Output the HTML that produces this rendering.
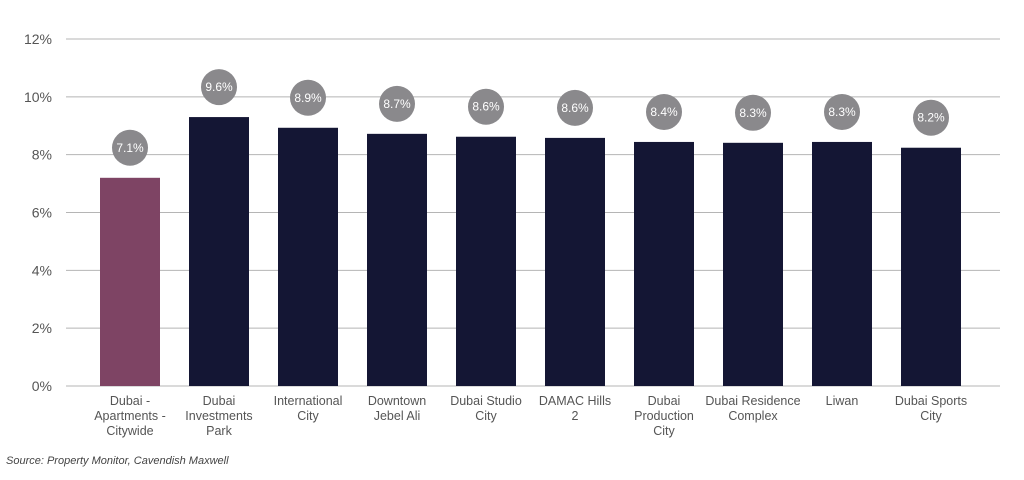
<!DOCTYPE html>
<html><head><meta charset="utf-8"><style>
body{margin:0;background:#fff;width:1024px;height:475px;overflow:hidden;font-family:"Liberation Sans",sans-serif}
</style></head><body>
<svg width="1024" height="475">
<g id="grid"></g>
<g id="bars"></g>
<g id="xl"></g>
<text x="6" y="464" font-size="11" font-style="italic" fill="#444">Source: Property Monitor, Cavendish Maxwell</text>
</svg>
<script>
const categories=[["Dubai -","Apartments -","Citywide"],["Dubai","Investments","Park"],["International","City"],["Downtown","Jebel Ali"],["Dubai Studio","City"],["DAMAC Hills","2"],["Dubai","Production","City"],["Dubai Residence","Complex"],["Liwan"],["Dubai Sports","City"]];
const values=[7.2,9.3,8.93,8.72,8.62,8.58,8.44,8.41,8.44,8.24];
const labels=["7.1%","9.6%","8.9%","8.7%","8.6%","8.6%","8.4%","8.3%","8.3%","8.2%"];
const ticks=[0,2,4,6,8,10,12];
const NS="http://www.w3.org/2000/svg";
const y=v=>386-v*(386-39)/12;
const x=i=>130+i*89;
function mk(t,a,p){const e=document.createElementNS(NS,t);for(const k in a)e.setAttribute(k,a[k]);p.appendChild(e);return e;}
const g=document.getElementById('grid');
ticks.forEach(t=>{
 const l=mk('line',{x1:66,x2:1000,y1:y(t),y2:y(t),stroke:'#b5b5b5','stroke-width':1},g);
 
 
 const tx=mk('text',{x:52,y:y(t)+5,'font-size':14,fill:'#555','text-anchor':'end'},g);
 tx.textContent=t+'%';
 
 
});
const b=document.getElementById('bars'),xl=document.getElementById('xl');
values.forEach((v,i)=>{
 const r=mk('rect',{x:x(i)-30,y:y(v),width:60,height:386-y(v),fill:i==0?'#7e4464':'#141634'},b);
 
 
 const c=mk('circle',{cx:x(i),cy:y(v)-30,r:18,fill:'#8a898c'},b);
 
 
 const t=mk('text',{x:x(i),y:y(v)-26,'font-size':12,fill:'#fff','text-anchor':'middle'},b);
 t.textContent=labels[i];
 
 
 categories[i].forEach((s,j)=>{
  const q=mk('text',{x:x(i),y:405+j*15,'font-size':12.5,fill:'#555','text-anchor':'middle'},xl);
  q.textContent=s;
  
  
 });
});
</script>
</body></html>
